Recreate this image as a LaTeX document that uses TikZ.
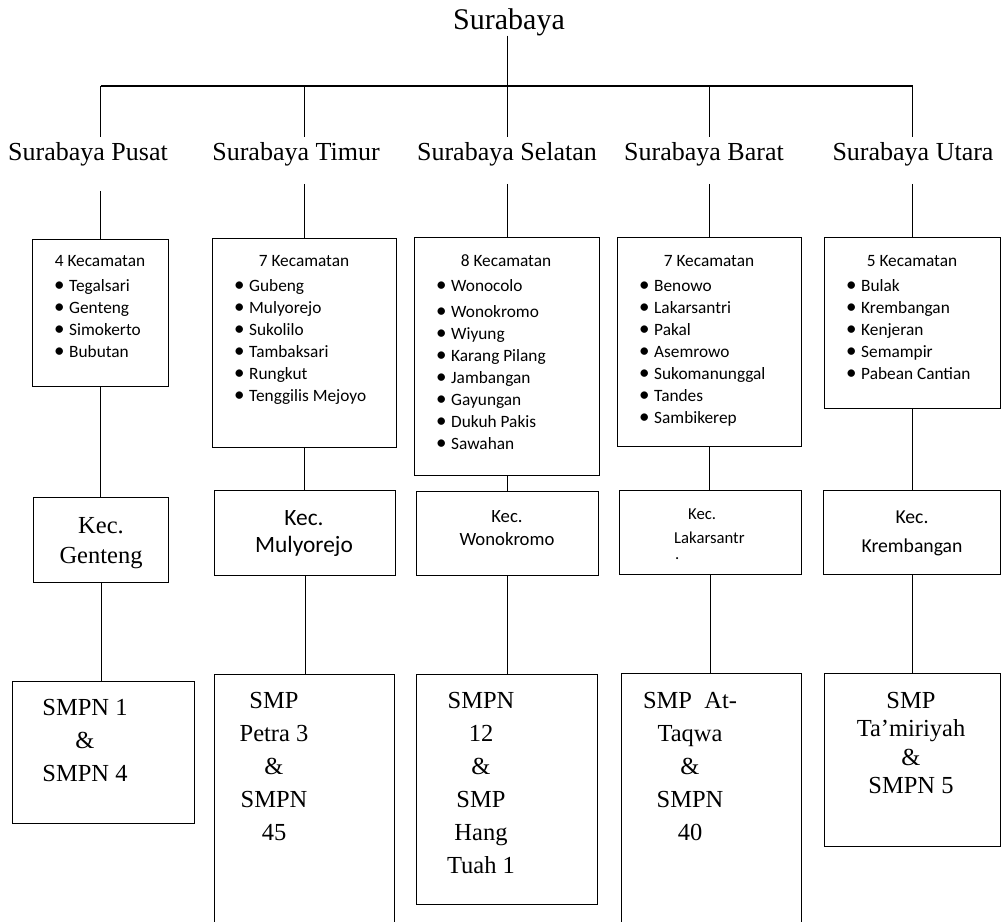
\documentclass[tikz,border=0pt]{standalone}
\usepackage{fontspec}
\setmainfont{Liberation Serif}
\newfontfamily\calibri{Carlito}
\newcommand{\stack}[1]{\begin{tabular}[t]{@{}c@{}}#1\end{tabular}}
\newcommand{\lst}[1]{\begin{tabular}[t]{@{}l@{}}#1\end{tabular}}
\newcommand{\itm}{\makebox[16pt][l]{\hspace{1pt}\smash{\fontsize{21}{22}\selectfont•}}}

\begin{document}
\begin{tikzpicture}[x=1pt,y=-1pt,
  every node/.style={inner sep=0pt},
  line/.style={line width=1.2pt},
  box/.style={draw,line width=1.2pt,anchor=north west},
  part/.style={font=\fontsize{26}{30}\selectfont,anchor=base,inner ysep=5pt},
  serif/.style={font=\fontsize{24.5}{33}\selectfont,anchor=base},
  head/.style={font=\calibri\fontsize{17.3}{22}\selectfont,anchor=base},
  list/.style={font=\calibri\fontsize{17.3}{22}\selectfont,anchor=base west}]
\useasboundingbox (0,0) rectangle (1001,921);
\clip (0,0) rectangle (1001,921);

% the city on top, then its five parts
\node[font=\fontsize{30}{36}\selectfont,anchor=base] (root) at (509,29) {Surabaya};
\coordinate (bar) at (508,86);
\node[part] (pusat)   at (88,160)  {Surabaya Pusat};
\node[part] (timur)   at (296,160) {Surabaya Timur};
\node[part] (selatan) at (507,160) {Surabaya Selatan};
\node[part] (barat)   at (704,160) {Surabaya Barat};
\node[part] (utara)   at (913,160) {Surabaya Utara};

% boxes with the list of kecamatan
\node[box,minimum width=136,minimum height=147] (kpusat)   at (32,239)  {};
\node[box,minimum width=184,minimum height=209] (ktimur)   at (212,238) {};
\node[box,minimum width=185,minimum height=238] (kselatan) at (414,237) {};
\node[box,minimum width=184,minimum height=209] (kbarat)   at (617,237) {};
\node[box,minimum width=176,minimum height=171] (kutara)   at (824,237) {};

\node[head] (hpusat) at (100,266) {4 Kecamatan};
\node[list] (lpusat) at (53,291) {\lst{\itm Tegalsari\\ \itm Genteng\\ \itm Simokerto\\ \itm Bubutan}};
\node[head] (htimur) at (304,266) {7 Kecamatan};
\node[list] (ltimur) at (233,291) {\lst{\itm Gubeng\\ \itm Mulyorejo\\ \itm Sukolilo\\ \itm Tambaksari\\ \itm Rungkut\\ \itm Tenggilis Mejoyo}};
\node[head] (hselatan) at (506,266) {8 Kecamatan};
\node[list] (lselatan) at (435,291) {\lst{\itm Wonocolo\\[4pt] \itm Wonokromo\\ \itm Wiyung\\ \itm Karang Pilang\\ \itm Jambangan\\ \itm Gayungan\\ \itm Dukuh Pakis\\ \itm Sawahan}};
\node[head] (hbarat) at (709,266) {7 Kecamatan};
\node[list] (lbarat) at (638,291) {\lst{\itm Benowo\\ \itm Lakarsantri\\ \itm Pakal\\ \itm Asemrowo\\ \itm Sukomanunggal\\ \itm Tandes\\ \itm Sambikerep}};
\node[head] (hutara) at (912,266) {5 Kecamatan};
\node[list] (lutara) at (845,291) {\lst{\itm Bulak\\ \itm Krembangan\\ \itm Kenjeran\\ \itm Semampir\\ \itm Pabean Cantian}};

% the chosen kecamatan
\node[box,minimum width=135,minimum height=85] (kecpusat)   at (33,497)  {};
\node[box,minimum width=181,minimum height=85] (kectimur)   at (214,490) {};
\node[box,minimum width=182,minimum height=84] (kecselatan) at (416,491) {};
\node[box,minimum width=182,minimum height=84] (kecbarat)   at (619,490) {};
\node[box,minimum width=177,minimum height=84] (kecutara)   at (823,490) {};

\node[font=\fontsize{24.5}{30}\selectfont,anchor=base] (tkpusat) at (101,533) {\stack{Kec.\\Genteng}};
\node[font=\calibri\fontsize{23.4}{27}\selectfont,anchor=base] (tktimur) at (304,525) {\stack{Kec.\\Mulyorejo}};
\node[font=\calibri\fontsize{18.7}{23}\selectfont,anchor=base] (tkselatan) at (507,522) {\stack{Kec.\\Wonokromo}};
\node[font=\calibri\fontsize{16.7}{24}\selectfont,anchor=base west] (tkbarat) at (688,519) {Kec.};
\node[font=\calibri\fontsize{16.7}{24}\selectfont,anchor=base west] (tkbarat2) at (674,543) {Lakarsantr};
\node[font=\calibri\fontsize{16.7}{24}\selectfont,anchor=base west] (tkbarat3) at (675,559) {.};
\node[font=\calibri\fontsize{19.7}{29}\selectfont,anchor=base] (tkutara) at (912,523) {\stack{Kec.\\Krembangan}};

% the schools
\node[box,minimum width=182,minimum height=142] (smppusat)   at (12,681)  {};
\node[box,minimum width=180,minimum height=300] (smptimur)   at (214,674) {};
\node[box,minimum width=181,minimum height=230] (smpselatan) at (416,674) {};
\node[box,minimum width=180,minimum height=300] (smpbarat)   at (621,673) {};
\node[box,minimum width=176,minimum height=173] (smputara)   at (824,673) {};

\node[serif] (spusat)   at (85,715)  {\stack{SMPN 1\\\&\\SMPN 4}};
\node[serif] (stimur)   at (274,708) {\stack{SMP\\Petra 3\\\&\\SMPN\\45}};
\node[serif] (sselatan) at (481,708) {\stack{SMPN\\12\\\&\\SMP\\Hang\\Tuah 1}};
\node[serif] (sbarat)   at (690,708) {\stack{SMP~~At-\\Taqwa\\\&\\SMPN\\40}};
\node[font=\fontsize{24.5}{28.5}\selectfont,anchor=base] (sutara) at (911,708) {\stack{SMP\\Ta’miriyah\\\&\\SMPN 5}};

% connectors
\draw[line] (kselatan.north |- root.south) -- (kselatan.north |- bar);
\draw[line width=2pt] (kpusat.north |- bar) -- (kutara.north |- bar);
\foreach \p/\cut in {pusat/20,timur/13,selatan/13,barat/13,utara/13}{
  \draw[line] (k\p.north |- bar) -- (k\p.north |- \p.north);
  \draw[line,shorten <=\cut pt] (k\p.north |- \p.south) -- (k\p.north);
  \draw[line] (k\p.south) -- (k\p.south |- kec\p.north);
  \draw[line] (kec\p.south) -- (kec\p.south |- smp\p.north);
}
\end{tikzpicture}
\end{document}
